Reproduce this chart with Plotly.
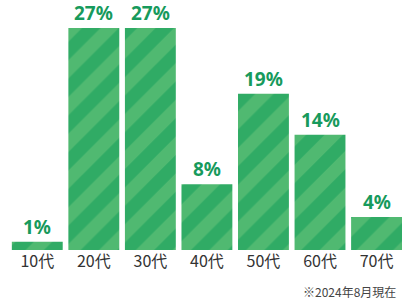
import plotly.graph_objects as go

categories = ["10代", "20代", "30代", "40代", "50代", "60代", "70代"]
values = [1, 27, 27, 8, 19, 14, 4]
value_labels = ["1%", "27%", "27%", "8%", "19%", "14%", "4%"]
note_text = "※2024年8月現在"

DARK = "#109d5a"
LIGHT = "#50b971"
TEXT_GREEN = "#179a5c"

fig = go.Figure()
fig.add_trace(go.Bar(
    x=categories, y=values,
    marker=dict(
        color=LIGHT,
        line=dict(width=0),
        pattern=dict(shape="/", fgcolor=DARK, bgcolor=LIGHT, size=26, solidity=0.5, fillmode="overlay"),
    ),
    hoverinfo="skip",
))

for c, v, t in zip(categories, values, value_labels):
    fig.add_annotation(x=c, y=v, text=t, showarrow=False, yanchor="bottom", yshift=1, borderpad=0,
                       font=dict(family="Noto Sans, sans-serif", size=19, color=TEXT_GREEN, weight="bold"))

fig.add_annotation(xref="paper", yref="paper", x=0.99, y=-0.164, xanchor="right", yanchor="middle",
                   text=note_text, showarrow=False,
                   font=dict(family="Noto Sans CJK JP, sans-serif", size=12, color="#444"))

fig.update_layout(
    width=402, height=299,
    margin=dict(l=9, r=0, t=0, b=49, autoexpand=False),
    paper_bgcolor="white", plot_bgcolor="white",
    bargap=0.1,
    showlegend=False,
    xaxis=dict(showgrid=False, showline=False, zeroline=False, ticks="", automargin=False,
               tickfont=dict(family="Noto Sans CJK JP, sans-serif", size=16, color="#333"),
               range=[-0.5, 6.45]),
    yaxis=dict(visible=False, range=[0, 30.4], automargin=False),
)

fig.write_html("out.html", config={"displayModeBar": False},
               post_script="document.body.style.margin='0px';document.body.style.overflow='hidden';")
